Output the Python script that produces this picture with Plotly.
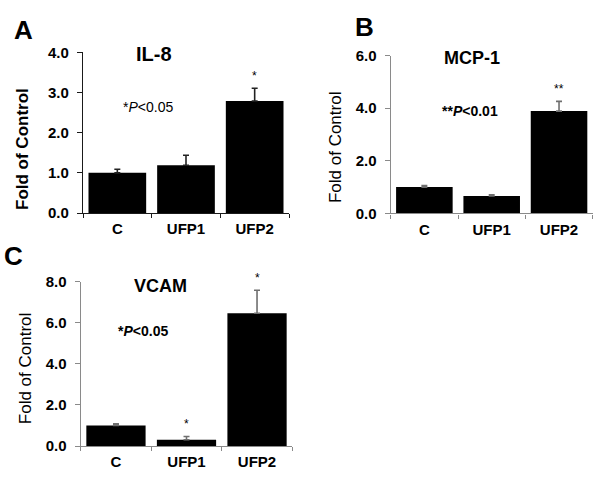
import plotly.graph_objects as go

W, H = 600, 493

categories = ["C", "UFP1", "UFP2"]

il8_values = [1.00, 1.19, 2.79]
il8_errors = [0.09, 0.25, 0.32]

mcp1_values = [1.00, 0.66, 3.89]
mcp1_errors = [0.06, 0.05, 0.37]

vcam_values = [1.00, 0.31, 6.46]
vcam_errors = [0.08, 0.16, 1.12]

il8_yticks = [0, 1, 2, 3, 4]
mcp1_yticks = [0, 2, 4, 6]
vcam_yticks = [0, 2, 4, 6, 8]

il8_stars = ["", "", "*"]
mcp1_stars = ["", "", "**"]
vcam_stars = ["", "*", "*"]


def px_x(x):
    return x / W


def px_y(y):
    return 1 - y / H


panels = [
    dict(key="", values=il8_values, errors=il8_errors, ticks=il8_yticks,
         stars=il8_stars, xd=(83, 289), yd=(211.3, 45), axcol="#1a1a1a",
         ecol="#222222"),
    dict(key="2", values=mcp1_values, errors=mcp1_errors, ticks=mcp1_yticks,
         stars=mcp1_stars, xd=(390.7, 592.7), yd=(211.7, 48.3), axcol="#8a8a8a",
         ecol="#6f6f6f"),
    dict(key="3", values=vcam_values, errors=vcam_errors, ticks=vcam_yticks,
         stars=vcam_stars, xd=(80.7, 292.3), yd=(452.7, 282.3), axcol="#8a8a8a",
         ecol="#6f6f6f"),
]

fig = go.Figure()
annotations = []
font_fam = "Liberation Sans, Arial, sans-serif"

for p in panels:
    k = p["key"]
    fig.add_trace(go.Bar(
        x=categories, y=p["values"],
        xaxis="x" + k, yaxis="y" + k,
        marker=dict(color="black", line=dict(width=0)),
        error_y=dict(type="data", symmetric=False, array=p["errors"],
                     arrayminus=[0 for _ in p["errors"]], visible=True,
                     color=p["ecol"], thickness=1.6, width=3),
        showlegend=False,
    ))
    lay = {}
    lay["xaxis" + k] = dict(
        domain=[px_x(p["xd"][0]), px_x(p["xd"][1])],
        anchor="y" + k, type="category", range=[-0.5, 2.5],
        showline=True, linecolor=p["axcol"], linewidth=1.2,
        ticks="outside", tickson="boundaries", ticklen=4,
        tickcolor=p["axcol"], tickwidth=1,
        showgrid=False, zeroline=False, ticklabelstandoff=2,
        tickfont=dict(family=font_fam, size=15, color="black", weight="bold"),
    )
    lay["yaxis" + k] = dict(
        domain=[px_y(p["yd"][0]), px_y(p["yd"][1])],
        anchor="x" + k, range=[p["ticks"][0], p["ticks"][-1]],
        tickvals=p["ticks"], tickformat=".1f",
        showline=True, linecolor=p["axcol"], linewidth=1.2,
        ticks="outside", ticklen=5, tickcolor=p["axcol"], tickwidth=1,
        showgrid=False, zeroline=False, ticklabelstandoff=5,
        tickfont=dict(family=font_fam, size=15, color="black", weight="bold"),
    )
    fig.update_layout(**lay)
    for c, v, e, s in zip(categories, p["values"], p["errors"], p["stars"]):
        if s:
            annotations.append(dict(
                x=c, y=v + e, xref="x" + k, yref="y" + k, text=s,
                showarrow=False, yshift=12,
                font=dict(family=font_fam, size=12, color="black"),
            ))

for txt, x, y in [("A", 23, 22), ("B", 364, 19), ("C", 13, 256)]:
    annotations.append(dict(x=px_x(x), y=px_y(y), xref="paper", yref="paper",
                            text="<b>" + txt + "</b>", showarrow=False,
                            xanchor="center", yanchor="middle",
                            font=dict(family=font_fam, size=26, color="black")))

for txt, x, y, s in [("<b>IL-8</b>", 154, 47, 20), ("<b>MCP-1</b>", 472, 51, 18),
                     ("<b>VCAM</b>", 160.5, 287, 18)]:
    annotations.append(dict(x=px_x(x), y=px_y(y), xref="paper", yref="paper",
                            text=txt, showarrow=False,
                            xanchor="center", yanchor="middle",
                            font=dict(family=font_fam, size=s, color="black")))

for txt, x, y in [("*<i>P</i><0.05", 148, 101.5), ("<b>**<i>P</i><0.01</b>", 470, 106),
                  ("<b>*<i>P</i><0.05</b>", 142.5, 333)]:
    annotations.append(dict(x=px_x(x), y=px_y(y), xref="paper", yref="paper",
                            text=txt, showarrow=False,
                            xanchor="center", yanchor="middle",
                            font=dict(family=font_fam, size=14, color="black")))

for txt, x, y in [("<b>Fold of Control</b>", 22, 145), ("Fold of Control", 335, 143),
                  ("Fold of Control", 25, 372)]:
    annotations.append(dict(x=px_x(x), y=px_y(y), xref="paper", yref="paper",
                            text=txt, showarrow=False, textangle=-90,
                            xanchor="center", yanchor="middle",
                            font=dict(family=font_fam, size=17, color="black")))

fig.update_layout(
    width=W, height=H,
    margin=dict(l=0, r=0, t=0, b=0),
    paper_bgcolor="white", plot_bgcolor="white",
    bargap=0.16,
    annotations=annotations,
)

fig.write_html("out.html", config={"displayModeBar": False},
               post_script="document.body.style.margin='0';document.body.style.padding='0';")
